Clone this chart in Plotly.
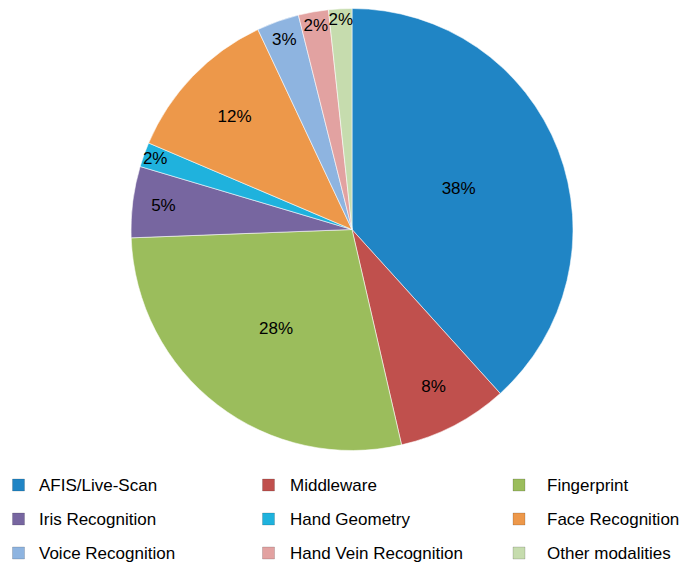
import plotly.graph_objects as go

labels = ["AFIS/Live-Scan", "Middleware", "Fingerprint", "Iris Recognition",
          "Hand Geometry", "Face Recognition", "Voice Recognition",
          "Hand Vein Recognition", "Other modalities"]
# shares (labels show the rounded percents)
values = [38.3, 8.1, 28.0, 5.2, 1.8, 11.6, 3.1, 2.2, 1.7]
colors = ["#2085C5", "#C0504D", "#9BBD5C", "#7766A0", "#1FB2DD",
          "#ED984A", "#8EB4E0", "#E2A2A1", "#C6DCAE"]

W, H = 680, 562

fig = go.Figure(go.Pie(
    labels=labels,
    values=values,
    sort=False,
    direction="clockwise",
    rotation=0,
    marker=dict(colors=colors, line=dict(color="rgba(255,255,255,0.55)", width=1)),
    texttemplate="%{percent:.0%}",
    textposition="inside",
    insidetextorientation="horizontal",
    textfont=dict(family="Liberation Sans, Arial", size=17, color="black"),
    domain=dict(x=[131 / W, 573 / W], y=[1 - 451 / H, 1 - 8 / H]),
    hoverinfo="label+percent",
    showlegend=False,
))

# Manual legend laid out in a 3-column grid (built from labels / colors)
marker_x = [18.5, 268.5, 519]
text_x = [37, 288, 545]
row_y = [485, 519, 553]
shapes = []
annotations = []
for i, (lab, col) in enumerate(zip(labels, colors)):
    c, r = i % 3, i // 3
    mx, my = marker_x[c], row_y[r]
    shapes.append(dict(
        type="rect", xref="paper", yref="paper",
        x0=(mx - 6) / W, x1=(mx + 6) / W,
        y0=1 - (my + 6) / H, y1=1 - (my - 6) / H,
        fillcolor=col, line=dict(color="rgba(0,0,0,0.15)", width=1),
    ))
    annotations.append(dict(
        x=text_x[c] / W, y=1 - my / H, xref="paper", yref="paper",
        text=lab, showarrow=False, xanchor="left", yanchor="middle",
        font=dict(family="Liberation Sans, Arial", size=17, color="black"),
    ))

fig.update_layout(
    width=W, height=H,
    margin=dict(l=0, r=0, t=0, b=0),
    paper_bgcolor="white",
    font=dict(family="Liberation Sans, Arial", size=17, color="black"),
    uniformtext=dict(minsize=17, mode="show"),
    showlegend=False,
    shapes=shapes,
    annotations=annotations,
)

fig.write_html("out.html")
